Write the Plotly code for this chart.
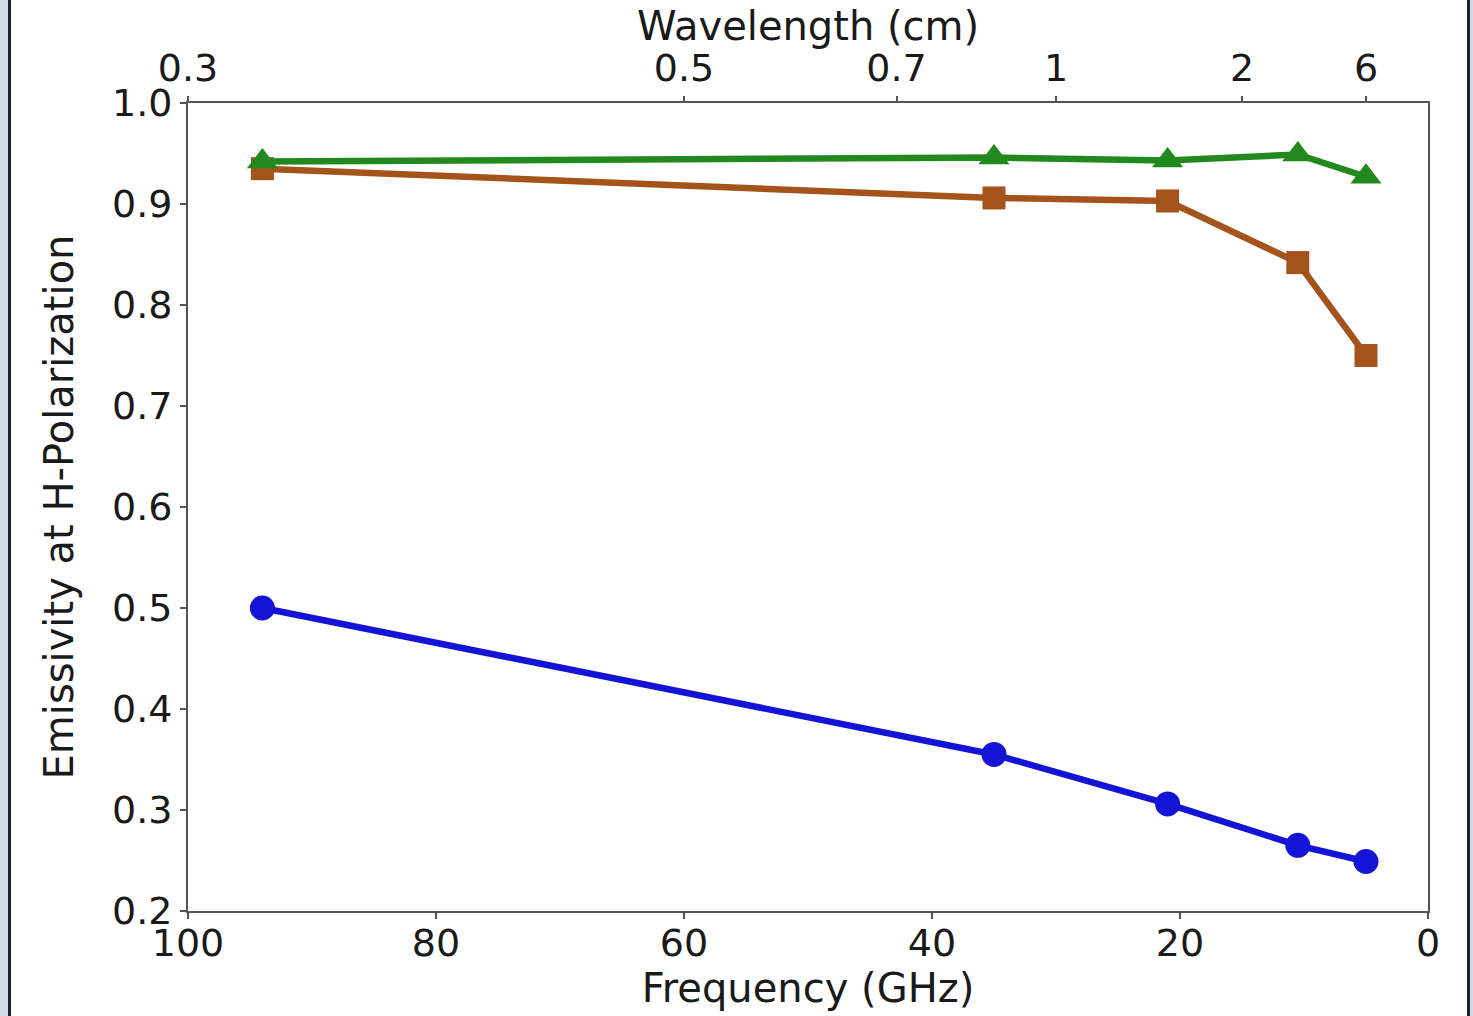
import plotly.graph_objects as go

# Measurement frequencies (GHz)
frequency_ghz = [94, 35, 21, 10.5, 5]

# H-polarization emissivity for three surface types
emis_blue = [0.500, 0.355, 0.306, 0.265, 0.249]
emis_brown = [0.935, 0.906, 0.903, 0.842, 0.750]
emis_green = [0.942, 0.946, 0.943, 0.949, 0.927]

# Wavelength ticks for the top axis (cm)
wavelength_cm = [0.3, 0.5, 0.7, 1, 2, 6]
wavelength_labels = ["0.3", "0.5", "0.7", "1", "2", "6"]

FONT = "DejaVu Sans"
AXIS_COLOR = "#555555"
TEXT_COLOR = "#1a1a1a"

fig = go.Figure()

fig.add_trace(go.Scatter(
    x=frequency_ghz, y=emis_blue, mode="lines+markers",
    line=dict(color="#1414D6", width=6.5),
    marker=dict(symbol="circle", size=25, color="#1414D6"),
    showlegend=False,
))
fig.add_trace(go.Scatter(
    x=frequency_ghz, y=emis_brown, mode="lines+markers",
    line=dict(color="#A4531A", width=6.5),
    marker=dict(symbol="square", size=23, color="#A4531A"),
    showlegend=False,
))
fig.add_trace(go.Scatter(
    x=frequency_ghz, y=emis_green, mode="lines+markers",
    line=dict(color="#22891F", width=6.5),
    marker=dict(symbol="triangle-up", size=27, color="#22891F"),
    showlegend=False,
))

tick_font = dict(family=FONT, size=38, color=TEXT_COLOR)
title_font = dict(family=FONT, size=40, color=TEXT_COLOR)

fig.update_layout(
    width=1473, height=1016,
    margin=dict(l=188, r=45, t=103, b=105),
    paper_bgcolor="white", plot_bgcolor="white",
    xaxis=dict(
        range=[100, 0], tickvals=[100, 80, 60, 40, 20, 0],
        showgrid=False, zeroline=False,
        showline=True, linecolor=AXIS_COLOR, linewidth=2, mirror=True,
        ticks="outside", ticklen=6, tickwidth=2, tickcolor=AXIS_COLOR,
        tickfont=tick_font, ticklabelstandoff=-9,
        title=dict(text="Frequency (GHz)", font=title_font, standoff=0),
    ),
    xaxis2=dict(
        overlaying="x", side="top", range=[100, 0],
        tickvals=[30 / w for w in wavelength_cm], ticktext=wavelength_labels,
        showgrid=False, zeroline=False, showline=False,
        ticks="outside", ticklen=6, tickwidth=2, tickcolor=AXIS_COLOR,
        tickfont=tick_font,
    ),
    yaxis=dict(
        range=[0.2, 1.0], tickvals=[0.2, 0.3, 0.4, 0.5, 0.6, 0.7, 0.8, 0.9, 1.0],
        tickformat=".1f",
        showgrid=False, zeroline=False,
        showline=True, linecolor=AXIS_COLOR, linewidth=2, mirror=True,
        ticks="outside", ticklen=6, tickwidth=2, tickcolor=AXIS_COLOR,
        tickfont=tick_font,
        title=dict(text="Emissivity at H-Polarization", font=title_font, standoff=26),
    ),
)

# Invisible trace so the top wavelength axis is rendered
fig.add_trace(go.Scatter(
    x=frequency_ghz, y=emis_green, xaxis="x2", mode="markers",
    marker=dict(opacity=0), hoverinfo="skip", showlegend=False,
))

# Top axis title
fig.add_annotation(
    text="Wavelength (cm)", xref="paper", yref="paper",
    x=0.5, y=1 + 77 / 808, xanchor="center", yanchor="middle",
    showarrow=False, font=title_font,
)

# Window frame strips on the page edges
fig.add_shape(type="rect", xref="paper", yref="paper",
              x0=-188 / 1240, x1=-180 / 1240, y0=-1, y1=2,
              fillcolor="#d3dce6", line_width=0, layer="below")
fig.add_shape(type="line", xref="paper", yref="paper",
              x0=-178.5 / 1240, x1=-178.5 / 1240, y0=-1, y1=2,
              line=dict(color="#222222", width=3))
fig.add_shape(type="line", xref="paper", yref="paper",
              x0=(1468.5 - 188) / 1240, x1=(1468.5 - 188) / 1240, y0=-1, y1=2,
              line=dict(color="#222222", width=3))
fig.add_shape(type="rect", xref="paper", yref="paper",
              x0=(1470 - 188) / 1240, x1=(1480 - 188) / 1240, y0=-1, y1=2,
              fillcolor="#d3dce6", line_width=0, layer="below")

fig.write_html("out.html")
